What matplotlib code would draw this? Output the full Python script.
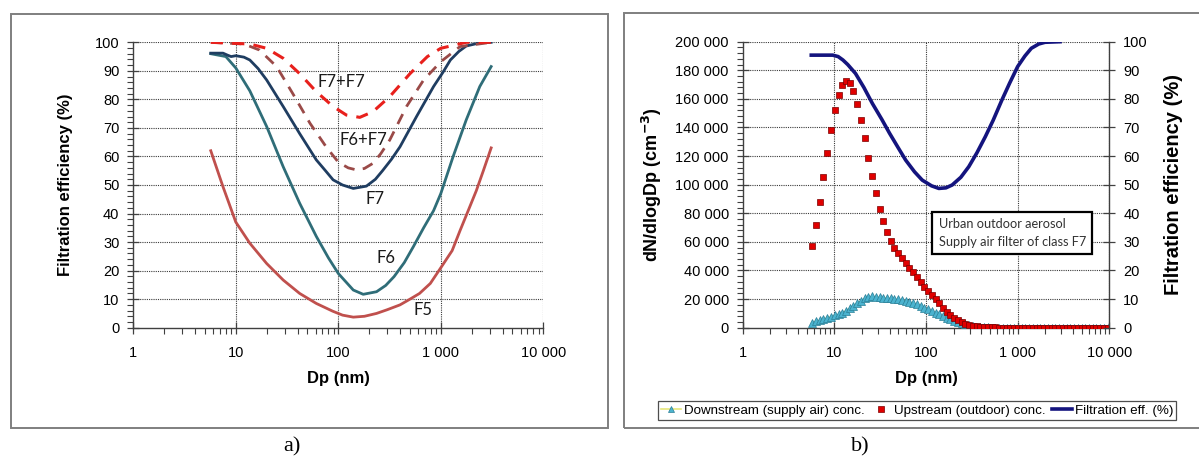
import matplotlib
matplotlib.use("Agg")
import matplotlib.pyplot as plt
from matplotlib.ticker import FixedLocator, FixedFormatter, FuncFormatter, MultipleLocator, LogLocator, NullFormatter
from matplotlib.lines import Line2D
from matplotlib.patches import Rectangle

# ---------------- data: panel a ----------------
f5_x = [5.7, 7.5, 10, 13.7, 20, 29, 42, 61, 88, 110, 140, 180, 236, 300, 400, 500, 620, 790, 1000, 1290, 1540, 1850, 2220, 2600, 3100]
f5_y = [62, 49.4, 37, 29.6, 22.5, 16.7, 12, 8.5, 5.8, 4.4, 3.7, 4.0, 5, 6.3, 8, 10, 12, 15.5, 21, 27, 34, 41, 48, 55, 63]

f6_x = [5.7, 8, 10, 13.7, 20, 29, 42, 61, 80, 100, 140, 175, 236, 290, 350, 440, 540, 680, 850, 1000, 1320, 1770, 2400, 3100]
f6_y = [96, 95, 91, 83, 70.5, 56.4, 43.6, 32, 24.5, 19, 13.2, 11.7, 12.6, 14.8, 17.9, 22.8, 28.4, 35, 41, 47, 60, 72.8, 84.5, 91.5]

f7_x = [5.7, 7.5, 8.3, 9, 10, 12, 13.7, 16.5, 20, 29, 42, 61, 75, 89, 110, 140, 188, 230, 270, 330, 400, 580, 850, 1050, 1240, 1500, 1770, 2400, 3100]
f7_y = [96.2, 96.2, 95.5, 95, 95.3, 94.8, 93.8, 90.8, 86.8, 77.5, 68, 58.8, 55, 51.8, 50, 48.8, 49.6, 52, 55, 59, 63.4, 74, 84.5, 89.5, 93.8, 96.8, 98.7, 99.8, 100]

f6f7_x = [5.7, 12, 17, 25, 36, 53, 76, 100, 125, 150, 180, 218, 260, 318, 463, 680, 1000, 1540, 3100]
f6f7_y = [100, 99.4, 97.3, 91.5, 82, 71.6, 63.4, 58, 56, 55.3, 55.8, 57.6, 61, 65.8, 77.5, 86.8, 93.2, 98.5, 100]

f7f7_x = [5.7, 13.7, 20, 29, 42, 61, 89, 120, 162, 218, 318, 500, 740, 1000, 1770, 3100]
f7f7_y = [100, 99.4, 97.9, 94.4, 89, 82.7, 77.5, 74.5, 73.7, 75.7, 81, 89, 95, 97.9, 100, 100]

curve_labels = ["F7+F7", "F6+F7", "F7", "F6", "F5"]
label_x = [108, 174, 228, 292, 671]
label_y = [86.2, 65.8, 45.1, 24.4, 6.2]

# ---------------- data: panel b ----------------
dp = [5.74, 6.31, 6.93, 7.61, 8.36, 9.18, 10.1, 11.1, 12.2, 13.4,
      14.7, 16.1, 17.7, 19.5, 21.4, 23.5, 25.8, 28.3, 31.1, 34.2,
      37.5, 41.2, 45.3, 49.7, 54.6, 60.0, 65.9, 72.4, 79.5, 87.3,
      95.9, 105, 116, 127, 140, 153, 169, 185, 203, 223,
      245, 269, 296, 325, 357, 392, 431, 473, 520, 571,
      627, 689, 757, 831, 913, 1007, 1107, 1216, 1334, 1466,
      1611, 1770, 1945, 2133, 2344, 2576, 2831, 3112, 3412, 3750,
      4121, 4529, 4977, 5458, 5998, 6592, 7244, 7962, 8730, 9594]

upstream = [56900, 71800, 88100, 105400, 122400, 138200, 152000, 163000, 170000, 172700,
            170900, 165500, 156600, 145200, 132400, 118900, 106100, 93900, 83000, 74400,
            66900, 60800, 55500, 52200, 48500, 45000, 42000, 39200, 35700, 32200,
            28700, 25900, 22800, 19800, 17000, 14000, 11200, 8900, 7000, 5400,
            4000, 2800, 2100, 1400, 900, 700, 500, 350, 250, 180,
            120, 80, 50, 30, 0, 0, 0, 0, 0, 0,
            0, 0, 0, 0, 0, 0, 0, 0, 0, 0,
            0, 0, 0, 0, 0, 0, 0, 0, 0, 0]

downstream = [3500, 4400, 5400, 6200, 7000, 7800, 8600, 9300, 10500, 11900,
              13500, 15400, 17200, 18900, 20500, 21400, 21900, 21700, 21200, 21000,
              20700, 20500, 20000, 19800, 19300, 18900, 18200, 17200, 16300, 15100,
              14000, 12800, 11700, 10500, 9300, 8200, 7000, 5800, 4900, 4000,
              3000, 2300, 1600, 1200, 800, 500, 300, 150, 80, 0,
              0, 0, 0, 0, 0, 0, 0, 0, 0, 0,
              0, 0, 0, 0, 0, 0, 0, 0, 0, 0,
              0, 0, 0, 0, 0, 0, 0, 0, 0, 0]

eff_x = [5.6, 9.6, 11, 12.4, 14, 17, 21, 26, 33, 40, 50, 60, 75, 91, 115, 138, 165, 193, 240, 293,
         360, 444, 540, 673, 820, 1000, 1200, 1410, 1700, 1990, 2900]
eff_y = [95.3, 95.3, 94.8, 93.6, 92, 88.9, 84, 78.4, 72.8, 68, 62.8, 58.6, 54.5, 51.6, 49.6, 48.7, 48.9, 49.9, 52.6, 56.3,
         61.2, 66.8, 72.5, 79.6, 85.6, 91.3, 95, 97.7, 99.2, 99.8, 100]

x_ticks = [1, 10, 100, 1000, 10000]
x_ticklabels = ["1", "10", "100", "1 000", "10 000"]

# ---------------- figure ----------------
W, H = 1199, 459
fig = plt.figure(figsize=(W / 100, H / 100), dpi=100)
plt.rcParams['font.family'] = ['Liberation Sans', 'DejaVu Sans']

def fx(px):
    return px / W

def fy(py):
    return 1 - py / H

# panel frames
fig.patches.append(Rectangle((fx(11), fy(428)), fx(608) - fx(11), fy(14) - fy(428),
                             transform=fig.transFigure, fill=False, ec='#7f7f7f', lw=1.4))
fig.patches.append(Rectangle((fx(624), fy(428)), fx(1210) - fx(624), fy(13) - fy(428),
                             transform=fig.transFigure, fill=False, ec='#7f7f7f', lw=1.4))

grid_kw = dict(color='#3a3a3a', linestyle=(0, (1, 1)), linewidth=0.8)
spine_col = '#404040'

def style_axes(ax, ymax, ystep, yminor):
    ax.set_xscale('log')
    ax.set_xlim(1, 10000)
    ax.set_ylim(0, ymax)
    ax.yaxis.set_major_locator(MultipleLocator(ystep))
    ax.yaxis.set_minor_locator(MultipleLocator(yminor))
    for s in ['top', 'right']:
        ax.spines[s].set_visible(False)
    for s in ['left', 'bottom']:
        ax.spines[s].set_color(spine_col)
        ax.spines[s].set_linewidth(1.0)
    ax.tick_params(which='major', direction='inout', length=8, width=0.9, color=spine_col,
                   labelsize=10.5, pad=6)
    ax.tick_params(which='minor', direction='out', length=4, width=0.8, color=spine_col)
    ax.tick_params(axis='x', which='major', pad=9)
    for v in x_ticks[1:]:
        ax.axvline(v, zorder=0.5, **grid_kw)
    for v in range(ystep, ymax + 1, ystep):
        ax.axhline(v, zorder=0.5, **grid_kw)

def set_xticks(ax):
    ax.xaxis.set_major_locator(FixedLocator(x_ticks))
    ax.xaxis.set_major_formatter(FixedFormatter(x_ticklabels))
    ax.xaxis.set_minor_locator(LogLocator(base=10, subs=range(2, 10)))
    ax.xaxis.set_minor_formatter(NullFormatter())

# ---------- panel a ----------
axa = fig.add_axes([fx(133.3), fy(327.7), fx(543.3) - fx(133.3), fy(42.3) - fy(327.7)])
style_axes(axa, 100, 10, 2)
set_xticks(axa)
axa.plot(f5_x, f5_y, color='#c0504d', lw=2.0)
axa.plot(f6_x, f6_y, color='#2f6d78', lw=2.0)
axa.plot(f7_x, f7_y, color='#1f3d61', lw=2.0)
axa.plot(f6f7_x, f6f7_y, color='#9a4a48', lw=2.0, linestyle=(0, (4, 3)))
axa.plot(f7f7_x, f7f7_y, color='#e8201c', lw=2.2, linestyle=(0, (4, 3)))
for t, xx, yy in zip(curve_labels, label_x, label_y):
    axa.text(xx, yy, t, ha='center', va='center', fontsize=12, family=['Lato', 'DejaVu Sans'],
             color='#1a1a1a')
axa.set_xlabel('Dp (nm)', fontsize=12, fontweight='bold', labelpad=8)
axa.set_ylabel('Filtration efficiency (%)', fontsize=12, fontweight='bold', labelpad=16)

# ---------- panel b ----------
axb = fig.add_axes([fx(742.7), fy(327.7), fx(1109.3) - fx(742.7), fy(41.7) - fy(327.7)])
style_axes(axb, 200000, 20000, 4000)
axb.yaxis.set_major_formatter(FuncFormatter(lambda v, p: f"{int(v):,}".replace(",", " ")))
axb.plot(dp, downstream, color='#e6e67a', lw=0.8, marker='^', markersize=5.2,
         markerfacecolor='#4bb3cf', markeredgecolor='#2a7f96', markeredgewidth=0.5, zorder=3)
axb.plot(dp, upstream, linestyle='none', marker='s', markersize=5.0,
         markerfacecolor='#e00000', markeredgecolor='#7a0000', markeredgewidth=0.5, zorder=4)
axb.set_xlabel('Dp (nm)', fontsize=12, fontweight='bold', labelpad=8)
axb.set_ylabel('dN/dlogDp (cm$^{\\mathbf{-3}}$)', fontsize=13, fontweight='bold', labelpad=8)

ax2 = axb.twinx()
ax2.set_ylim(0, 100)
ax2.yaxis.set_major_locator(MultipleLocator(10))
for s in ['top', 'left', 'bottom']:
    ax2.spines[s].set_visible(False)
ax2.spines['right'].set_color(spine_col)
ax2.spines['right'].set_linewidth(1.0)
ax2.tick_params(axis='y', which='major', direction='inout', length=8, width=0.9, color=spine_col,
                labelsize=10.5, pad=6)
ax2.plot(eff_x, eff_y, color='#14147e', lw=2.6, zorder=5)
ax2.set_ylabel('Filtration efficiency (%)', fontsize=14.5, fontweight='bold', labelpad=12)
set_xticks(axb)
axb.set_xlim(1, 10000)

# text box
axb.text(0.535, 0.331, 'Urban outdoor aerosol\nSupply air filter of class F7',
         transform=axb.transAxes, fontsize=9.2, family=['Lato', 'DejaVu Sans'], color='#333333',
         va='center', ha='left', linespacing=1.55,
         bbox=dict(boxstyle='square,pad=0.5', fc='white', ec='black', lw=1.6))

# legend
handles = [
    Line2D([], [], color='#e6e67a', lw=1.2, marker='^', markersize=4.6,
           markerfacecolor='#4bb3cf', markeredgecolor='#2a7f96', markeredgewidth=0.5),
    Line2D([], [], linestyle='none', marker='s', markersize=4.6,
           markerfacecolor='#e00000', markeredgecolor='#7a0000', markeredgewidth=0.5),
    Line2D([], [], color='#14147e', lw=2.6),
]
labels = ['Downstream (supply air) conc.', 'Upstream (outdoor) conc.', 'Filtration eff. (%)']
leg = fig.legend(handles, labels, loc='center', bbox_to_anchor=(fx(917), fy(410.5)), ncol=3,
                 fontsize=9.6, frameon=True, fancybox=False, edgecolor='#222222',
                 handlelength=1.5, handletextpad=0.2, columnspacing=0.5,
                 borderpad=0.25, borderaxespad=0)
leg.get_frame().set_linewidth(0.9)

# panel captions
fig.text(fx(292), fy(447), 'a)', ha='center', va='center', fontsize=16,
         family=['Liberation Serif', 'DejaVu Serif'])
fig.text(fx(860), fy(447), 'b)', ha='center', va='center', fontsize=16,
         family=['Liberation Serif', 'DejaVu Serif'])

fig.savefig('out.png', dpi=100)
